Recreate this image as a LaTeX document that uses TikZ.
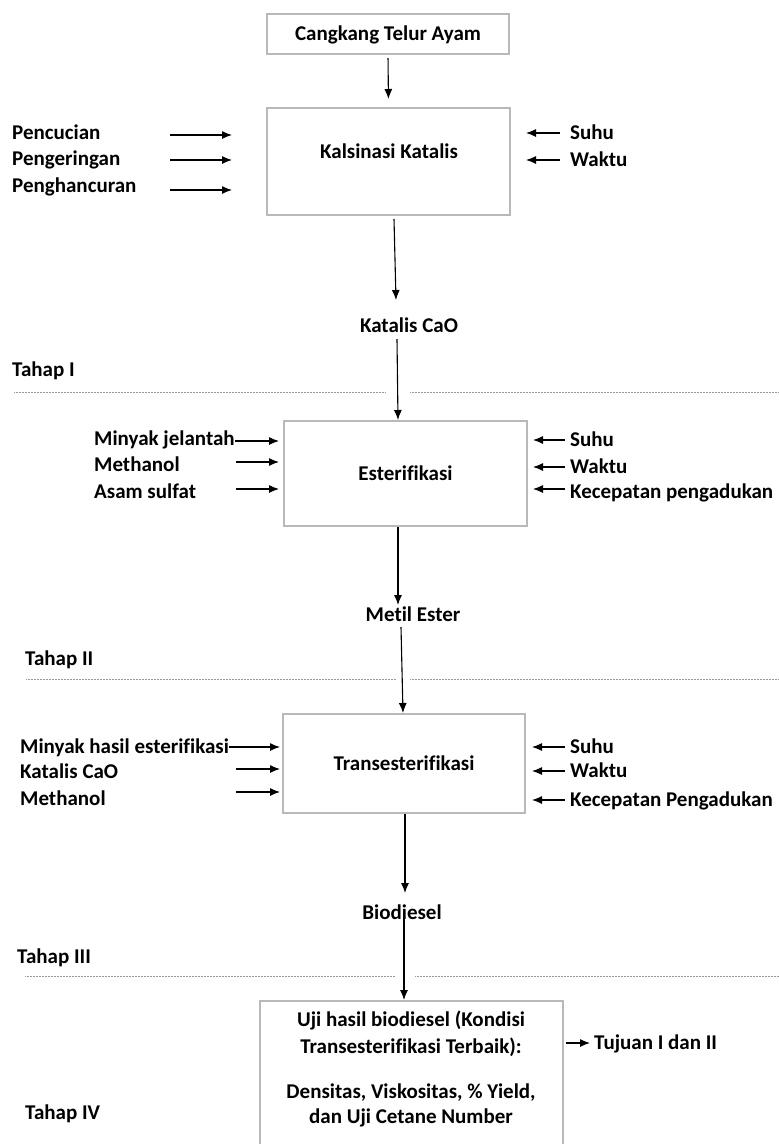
\documentclass[tikz,border=0pt]{standalone}
\usepackage{fontspec}
\setmainfont{Carlito}[Ligatures=NoCommon]
\usetikzlibrary{arrows.meta}
\begin{document}
\begin{tikzpicture}[x=1pt,y=-1pt,
  box/.style={draw=gray!55, line width=2pt, inner sep=0pt},
  lbl/.style={font=\fontsize{21}{25}\selectfont\bfseries, inner sep=0pt, text height=13.5pt, text depth=0pt},
  arr/.style={-{Latex[length=10pt,width=8pt]}, line width=1.1pt},
  sepline/.style={gray!80, line width=0.8pt, dash pattern=on 1pt off 0.5pt}]
\clip (0,0) rectangle (779,1144);
\fill[white] (0,0) rectangle (779,1144);

% ---------- Stage I ----------
\node[box, lbl, minimum width=242pt, minimum height=40pt] (top) at (388,34) {Cangkang Telur Ayam};
\node[box, minimum width=243pt, minimum height=107pt] (kal) at (388.5,161.5) {};
\node[lbl] (kaltxt) at (389,152) {Kalsinasi Katalis};
\draw[arr, shorten <=3pt, shorten >=8pt] (top.south) -- (kal.north);

\node[lbl, anchor=west] (pen1) at (12,133) {Pencucian};
\node[lbl, anchor=west] (pen2) at (12,159) {Pengeringan};
\node[lbl, anchor=west] (pen3) at (12,186) {Penghancuran};
\coordinate (a1) at (170,135);
\coordinate (a2) at (170,160);
\coordinate (a3) at (170,190);
\draw[arr, shorten >=34pt] (a1) -- (a1 -| kal.west);
\draw[arr, shorten >=34pt] (a2) -- (a2 -| kal.west);
\draw[arr, shorten >=34pt] (a3) -- (a3 -| kal.west);

\node[lbl, anchor=west] (ksuhu) at (570,133) {Suhu};
\node[lbl, anchor=west] (kwaktu) at (570,160) {Waktu};
\draw[arr, shorten <=10pt, shorten >=15pt] (ksuhu.west) -- (ksuhu.west -| kal.east);
\draw[arr, shorten <=10pt, shorten >=15pt] (kwaktu.west) -- (kwaktu.west -| kal.east);

\node[lbl] (cao) at (409,326) {Katalis CaO};
\draw[arr] ([xshift=5.5pt,yshift=-3pt]kal.south) -- ([xshift=-13pt,yshift=26pt]cao.center);

\node[lbl, anchor=west] (t1) at (12,370) {Tahap I};
\coordinate (d1a) at (14,392);
\coordinate (d1b) at (385,392);
\coordinate (d1c) at (410,392);
\coordinate (d1d) at (779,392);
\draw[sepline] (d1a) -- (d1b);
\draw[sepline] (d1c) -- (d1d);

% ---------- Stage II ----------
\node[box, lbl, minimum width=243pt, minimum height=105pt] (est) at (405.5,473.5) {Esterifikasi};
\draw[arr] ([xshift=-12pt,yshift=-13pt]cao.center) -- ([xshift=-7.5pt]est.north);

\node[lbl, anchor=west] (mj) at (94,439) {Minyak jelantah};
\node[lbl, anchor=west] (em) at (94,465) {Methanol};
\node[lbl, anchor=west] (as) at (94,492) {Asam sulfat};
\coordinate (b2) at (236,462);
\coordinate (b3) at (236,489);
\draw[arr, shorten >=4pt] ([yshift=-2pt]mj.east) -- ([yshift=-2pt]mj.east -| est.west);
\draw[arr, shorten >=4pt] (b2) -- (b2 -| est.west);
\draw[arr, shorten >=4pt] (b3) -- (b3 -| est.west);

\node[lbl, anchor=west] (esuhu) at (570,440) {Suhu};
\node[lbl, anchor=west] (ewaktu) at (570,467) {Waktu};
\node[lbl, anchor=west] (ekec) at (570,492) {Kecepatan pengadukan};
\draw[arr, shorten <=5pt, shorten >=5pt] (esuhu.west) -- (esuhu.west -| est.east);
\draw[arr, shorten <=5pt, shorten >=5pt] (ewaktu.west) -- (ewaktu.west -| est.east);
\draw[arr, shorten <=5pt, shorten >=5pt] ([yshift=3pt]ekec.west) -- ([yshift=3pt]ekec.west -| est.east);

\node[lbl] (met) at (413,615) {Metil Ester};
\draw[arr] ([xshift=-7.5pt]est.south) -- ([xshift=-15pt,yshift=10pt]met.center);

\node[lbl, anchor=west] (t2) at (25,659) {Tahap II};
\coordinate (d2a) at (26,679);
\coordinate (d2b) at (396,679);
\coordinate (d2c) at (410,679);
\coordinate (d2d) at (779,679);
\draw[sepline] (d2a) -- (d2b);
\draw[sepline] (d2c) -- (d2d);

% ---------- Stage III ----------
\node[box, lbl, minimum width=242pt, minimum height=99pt] (tr) at (404,763.5) {Transesterifikasi};
\draw[arr] ([xshift=-12pt,yshift=-12pt]met.center) -- ([xshift=-1pt]tr.north);

\node[lbl, anchor=west] (mh) at (20,747) {Minyak hasil esterifikasi};
\node[lbl, anchor=west] (kc) at (20,772) {Katalis CaO};
\node[lbl, anchor=west] (tm) at (20,799) {Methanol};
\coordinate (c2) at (236,769);
\coordinate (c3) at (236,792);
\draw[arr, shorten >=2pt] (mh.east) -- (mh.east -| tr.west);
\draw[arr, shorten >=2pt] (c2) -- (c2 -| tr.west);
\draw[arr, shorten >=2pt] (c3) -- (c3 -| tr.west);

\node[lbl, anchor=west] (tsuhu) at (570,747) {Suhu};
\node[lbl, anchor=west] (twaktu) at (570,771) {Waktu};
\node[lbl, anchor=west] (tkec) at (570,800) {Kecepatan Pengadukan};
\draw[arr, shorten <=5pt, shorten >=6pt] (tsuhu.west) -- (tsuhu.west -| tr.east);
\draw[arr, shorten <=5pt, shorten >=6pt] (twaktu.west) -- (twaktu.west -| tr.east);
\draw[arr, shorten <=5pt, shorten >=6pt] (tkec.west) -- (tkec.west -| tr.east);

\node[lbl] (bio) at (402,913) {Biodiesel};
\draw[arr] ([xshift=1pt]tr.south) -- ([xshift=3pt,yshift=20pt]bio.center);

\node[lbl, anchor=west] (t3) at (17,957) {Tahap III};
\coordinate (d3a) at (25,976);
\coordinate (d3b) at (395,976);
\coordinate (d3c) at (415,976);
\coordinate (d3d) at (779,976);
\draw[sepline] (d3a) -- (d3b);
\draw[sepline] (d3c) -- (d3d);

% ---------- Stage IV ----------
\node[box, minimum width=303pt, minimum height=170pt, anchor=north] (uji) at (411.5,1000) {};
\draw[arr] ([xshift=2pt,yshift=-5pt]bio.center) -- ([xshift=-7.5pt]uji.north);
\node[lbl] (u1) at (411,1020) {Uji hasil biodiesel (Kondisi};
\node[lbl] (u2) at (411,1047) {Transesterifikasi Terbaik):};
\node[lbl] (u3) at (411,1092) {Densitas, Viskositas, \% Yield,};
\node[lbl] (u4) at (411,1117) {dan Uji Cetane Number};

\node[lbl, anchor=west] (tuj) at (594,1043) {Tujuan I dan II};
\draw[arr, shorten <=2pt] (uji.east |- tuj.west) -- ([xshift=-4pt]tuj.west);

\node[lbl, anchor=west] (t4) at (25,1113) {Tahap IV};
\end{tikzpicture}
\end{document}
